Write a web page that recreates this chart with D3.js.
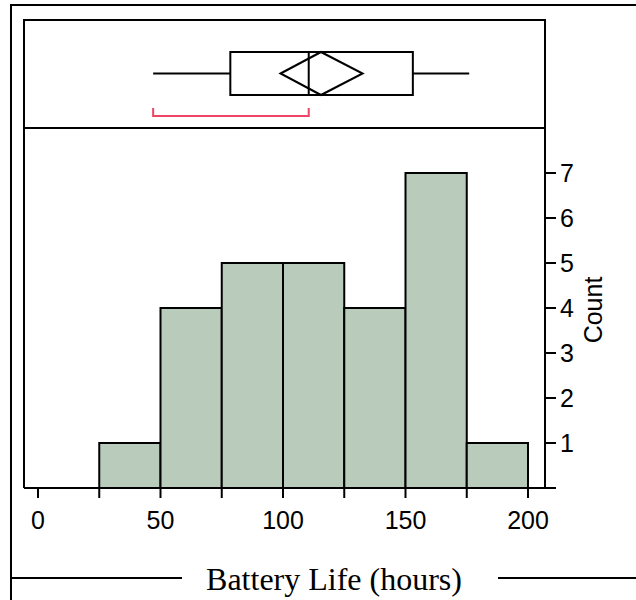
<!DOCTYPE html>
<html>
<head>
<meta charset="utf-8">
<script src="https://cdn.jsdelivr.net/npm/d3@7"></script>
<style>
  body { margin: 0; background: #fff; }
  svg { display: block; }
</style>
</head>
<body>
<script>
// histogram bins (hours) and counts
const binEdges = [25, 50, 75, 100, 125, 150, 175, 200];
const counts = [1, 4, 5, 5, 4, 7, 1];
const xTicks = [0, 50, 100, 150, 200];
const yTicks = [1, 2, 3, 4, 5, 6, 7];

// outlier box plot summary
const whiskers = [47, 176];
const quartiles = [78.5, 153];
const median = 110.5;
const meanCI = [99, 132.5];
const meanValue = 115.5;
const shortestHalf = [47, 110.5];

const width = 636, height = 600;
const svg = d3.select('body').append('svg').attr('width', width).attr('height', height);

const x = d3.scaleLinear().domain([0, 200]).range([38, 528]);
const y = d3.scaleLinear().domain([0, 7]).range([488, 173]);

const frameLeft = 24, frameTop = 20, frameRight = 545, divider = 128;
const sans = 'Liberation Sans, Arial, sans-serif';

// outer frame with the axis title sitting in the bottom line
svg.append('path')
  .attr('d', `M11,${height}V5H${width}`)
  .attr('fill', 'none').attr('stroke', '#000').attr('stroke-width', 2);
svg.append('line').attr('x1', 11).attr('x2', 182).attr('y1', 578).attr('y2', 578)
  .attr('stroke', '#000').attr('stroke-width', 2);
svg.append('line').attr('x1', 498).attr('x2', width).attr('y1', 578).attr('y2', 578)
  .attr('stroke', '#000').attr('stroke-width', 2);
svg.append('text')
  .attr('x', 334).attr('y', 590)
  .attr('text-anchor', 'middle')
  .attr('font-family', 'Liberation Serif, Times New Roman, serif')
  .attr('font-size', 32)
  .text('Battery Life (hours)');

// bars
const bins = counts.map((c, i) => ({ x0: binEdges[i], x1: binEdges[i + 1], count: c }));
svg.append('g').selectAll('rect').data(bins).enter().append('rect')
  .attr('x', d => x(d.x0))
  .attr('y', d => y(d.count))
  .attr('width', d => x(d.x1) - x(d.x0))
  .attr('height', d => y(0) - y(d.count))
  .attr('fill', '#b9cbbb')
  .attr('stroke', '#000')
  .attr('stroke-width', 2);

// inner frame
svg.append('path')
  .attr('d', `M${frameLeft},${y(0)}V${frameTop}H${frameRight}V${y(0)}`)
  .attr('fill', 'none').attr('stroke', '#000').attr('stroke-width', 2);
svg.append('line').attr('x1', frameLeft).attr('x2', frameRight).attr('y1', divider).attr('y2', divider)
  .attr('stroke', '#000').attr('stroke-width', 2);

// x axis
const xAxis = svg.append('g').attr('transform', `translate(0,${y(0)})`);
xAxis.append('line').attr('x1', frameLeft).attr('x2', 556).attr('stroke', '#000').attr('stroke-width', 2);
xAxis.selectAll('.tick').data([0].concat(binEdges)).enter().append('line')
  .attr('x1', d => x(d)).attr('x2', d => x(d)).attr('y1', 0).attr('y2', 10)
  .attr('stroke', '#000').attr('stroke-width', 2);
xAxis.selectAll('text').data(xTicks).enter().append('text')
  .attr('x', d => x(d)).attr('y', 41)
  .attr('text-anchor', 'middle')
  .attr('font-family', sans)
  .attr('font-size', 25)
  .text(d => d);

// y axis on the right
const yAxis = svg.append('g').attr('transform', `translate(${frameRight},0)`);
yAxis.selectAll('line').data(yTicks).enter().append('line')
  .attr('x1', 0).attr('x2', 11).attr('y1', d => y(d)).attr('y2', d => y(d))
  .attr('stroke', '#000').attr('stroke-width', 2);
yAxis.selectAll('text').data(yTicks).enter().append('text')
  .attr('x', 15).attr('y', d => y(d) + 9)
  .attr('font-family', sans)
  .attr('font-size', 25)
  .text(d => d);
svg.append('text')
  .attr('transform', `translate(602,${(divider + y(0)) / 2 + 2}) rotate(-90)`)
  .attr('text-anchor', 'middle')
  .attr('font-family', sans)
  .attr('font-size', 25)
  .text('Count');

// box plot
const bp = svg.append('g').attr('fill', 'none').attr('stroke', '#000').attr('stroke-width', 2);
const boxTop = 52, boxBottom = 95, mid = (boxTop + boxBottom) / 2;
bp.append('line').attr('x1', x(whiskers[0])).attr('x2', x(quartiles[0])).attr('y1', mid).attr('y2', mid);
bp.append('line').attr('x1', x(quartiles[1])).attr('x2', x(whiskers[1])).attr('y1', mid).attr('y2', mid);
bp.append('rect')
  .attr('x', x(quartiles[0])).attr('y', boxTop)
  .attr('width', x(quartiles[1]) - x(quartiles[0])).attr('height', boxBottom - boxTop);
bp.append('line').attr('x1', x(median)).attr('x2', x(median)).attr('y1', boxTop).attr('y2', boxBottom);
bp.append('path')
  .attr('d', `M${x(meanCI[0])},${mid}L${x(meanValue)},${boxTop}L${x(meanCI[1])},${mid}L${x(meanValue)},${boxBottom}Z`);

// shortest half bracket
svg.append('path')
  .attr('d', `M${x(shortestHalf[0])},108V116H${x(shortestHalf[1])}V108`)
  .attr('fill', 'none').attr('stroke', '#f04464').attr('stroke-width', 2);
</script>
</body>
</html>
